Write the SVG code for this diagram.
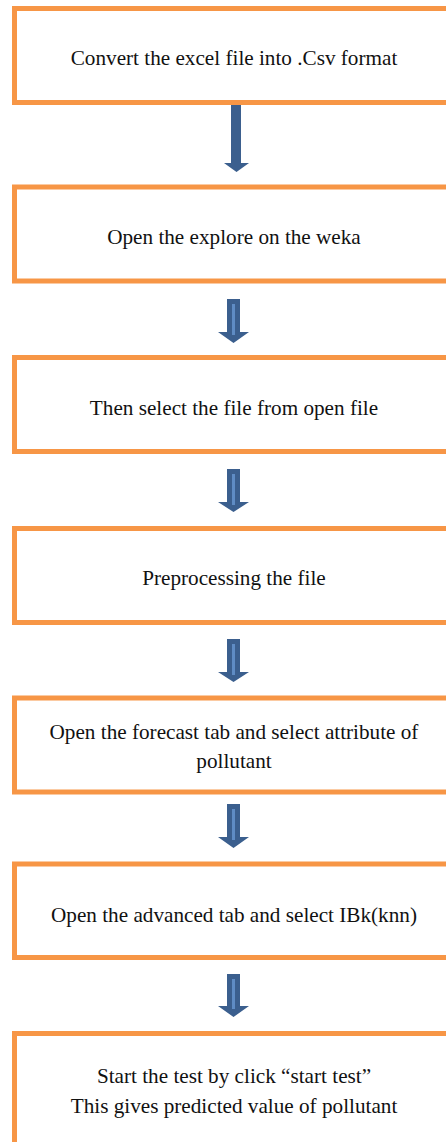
<svg xmlns="http://www.w3.org/2000/svg" width="446" height="1142" viewBox="0 0 446 1142">
  <style>
    .box { fill: #ffffff; stroke: #F79646; stroke-width: 5; }
    .label { font-family: 'Liberation Serif', 'DejaVu Serif', serif; font-size: 21.2px; fill: #111111; text-anchor: middle; }
    .arrow { fill: #3B5F8E; }
    .shine { stroke: #5F8CC4; stroke-width: 3; }
  </style>
  <rect width="446" height="1142" fill="#ffffff"/>

  <g id="connectors">
    <path class="arrow" d="M231,100 H241 V163 H249 L236.5,172 L224,163 H231 Z"/>
    <g id="arrow-2">
      <path class="arrow" d="M227,299 H240 V332 H249 L233.5,343 L218,332 H227 Z"/>
      <line class="shine" x1="233.5" y1="304" x2="233.5" y2="335"/>
    </g>
    <g id="arrow-3">
      <path class="arrow" d="M227,469 H240 V502 H249 L233.5,512 L218,502 H227 Z"/>
      <line class="shine" x1="233.5" y1="474" x2="233.5" y2="505"/>
    </g>
    <g id="arrow-4">
      <path class="arrow" d="M227,639 H240 V672 H249 L233.5,682 L218,672 H227 Z"/>
      <line class="shine" x1="233.5" y1="644" x2="233.5" y2="675"/>
    </g>
    <g id="arrow-5">
      <path class="arrow" d="M227,804 H240 V837 H249 L233.5,848 L218,837 H227 Z"/>
      <line class="shine" x1="233.5" y1="809" x2="233.5" y2="840"/>
    </g>
    <g id="arrow-6">
      <path class="arrow" d="M227,974 H240 V1006 H249 L233.5,1017 L218,1006 H227 Z"/>
      <line class="shine" x1="233.5" y1="979" x2="233.5" y2="1009"/>
    </g>
  </g>

  <g id="step-convert">
    <rect class="box" x="14.5" y="8.5" width="460" height="94"/>
    <text class="label" x="234" y="65">Convert the excel file into .Csv format</text>
  </g>
  <g id="step-explorer">
    <rect class="box" x="14.5" y="187" width="460" height="94"/>
    <text class="label" x="234" y="243.5">Open the explore on the weka</text>
  </g>
  <g id="step-select-file">
    <rect class="box" x="14.5" y="357.5" width="460" height="94"/>
    <text class="label" x="234" y="415">Then select the file from open file</text>
  </g>
  <g id="step-preprocess">
    <rect class="box" x="14.5" y="528.5" width="460" height="94"/>
    <text class="label" x="234" y="585">Preprocessing the file</text>
  </g>
  <g id="step-forecast">
    <rect class="box" x="14.5" y="698" width="460" height="94"/>
    <text class="label" x="234" y="739">Open the forecast tab and select attribute of</text>
    <text class="label" x="234" y="768">pollutant</text>
  </g>
  <g id="step-advanced">
    <rect class="box" x="14.5" y="864" width="460" height="93.5"/>
    <text class="label" x="234" y="922">Open the advanced tab and select IBk(knn)</text>
  </g>
  <g id="step-test">
    <rect class="box" x="14.5" y="1033.5" width="460" height="130"/>
    <text class="label" x="234" y="1083">Start the test by click “start test”</text>
    <text class="label" x="234" y="1113">This gives predicted value of pollutant</text>
  </g>
</svg>
